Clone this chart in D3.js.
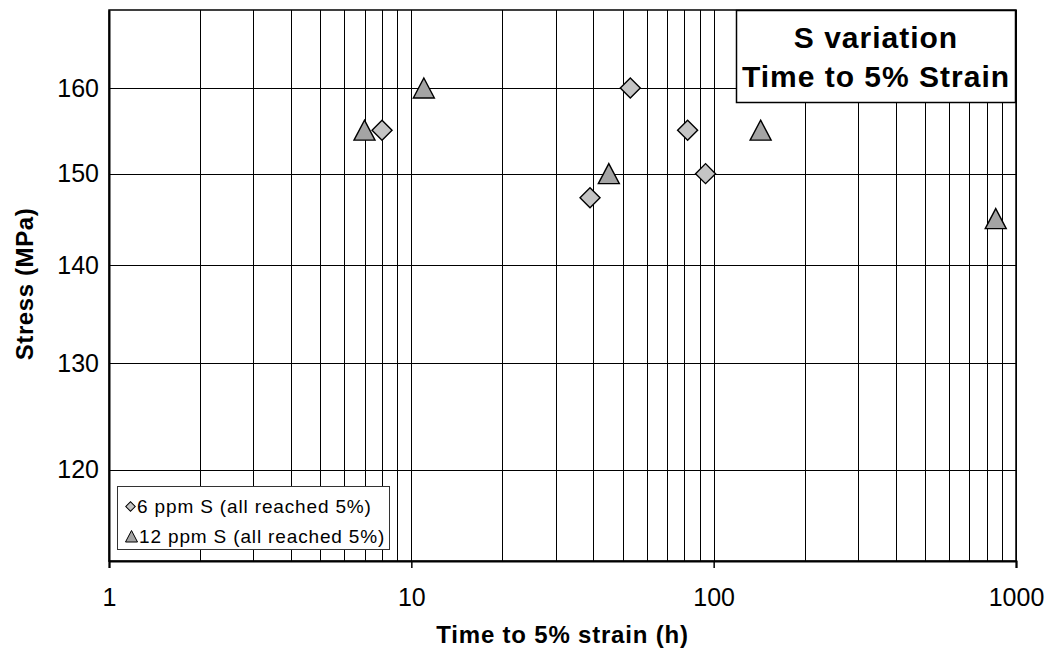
<!DOCTYPE html>
<html>
<head>
<meta charset="utf-8">
<script src="https://cdn.jsdelivr.net/npm/d3@7"></script>
<style>
  body { margin: 0; background: #fff; }
  text { font-family: "Liberation Sans", Arial, sans-serif; }
</style>
</head>
<body>
<div id="chart"></div>
<script>
// DATA
const sixHours = [8.0, 39, 53, 82, 94];
const sixStress = [155, 147.3, 160, 155, 150];
const twelveHours = [7.0, 11.0, 45, 143, 857];
const twelveStress = [155, 160, 150, 155, 145];
const yGridValues = [120, 130, 140, 150, 160];
const xLabelValues = [1, 10, 100, 1000];
const legendLabels = ["6 ppm S (all reached 5%)", "12 ppm S (all reached 5%)"];
const titleLines = ["S variation", "Time to 5% Strain"];

const W = 1051, H = 655;
const plot = { left: 109, right: 1016, top: 10, bottom: 561 };

const svg = d3.select("#chart")
    .append("svg")
    .attr("width", W)
    .attr("height", H);

svg.append("rect").attr("width", W).attr("height", H).attr("fill", "#fff");

// SCALES
const xs = d3.scaleLog().domain([1, 1000]).range([plot.left, plot.right]);
const ys = d3.scaleLog().domain([112, 169.7]).range([plot.bottom, plot.top]);

// GRID
svg.append("g")
    .selectAll("line")
    .data(xs.ticks())
    .enter()
    .append("line")
    .attr("x1", d => Math.round(xs(d)) + 0.5)
    .attr("x2", d => Math.round(xs(d)) + 0.5)
    .attr("y1", plot.top)
    .attr("y2", plot.bottom)
    .attr("stroke", "#000")
    .attr("stroke-width", 1);

svg.append("g")
    .selectAll("line")
    .data(yGridValues)
    .enter()
    .append("line")
    .attr("x1", plot.left)
    .attr("x2", plot.right)
    .attr("y1", d => Math.round(ys(d)) + 0.5)
    .attr("y2", d => Math.round(ys(d)) + 0.5)
    .attr("stroke", "#000")
    .attr("stroke-width", 1);

// plot border
svg.append("rect")
    .attr("x", plot.left)
    .attr("y", plot.top)
    .attr("width", plot.right - plot.left)
    .attr("height", plot.bottom - plot.top)
    .attr("fill", "none")
    .attr("stroke", "#000")
    .attr("stroke-width", 1.5);

// AXES
const xAxis = svg.append("g")
    .attr("transform", `translate(0,${plot.bottom})`)
    .call(d3.axisBottom(xs).tickValues(xLabelValues).tickFormat(d3.format("d"))
        .tickSize(7).tickPadding(20));
xAxis.select(".domain").attr("stroke-width", 2);
xAxis.selectAll(".tick line").attr("stroke-width", 1.5);
xAxis.selectAll("text")
    .style("font-size", "25px")
    .style("font-family", "Liberation Sans, Arial, sans-serif")
    .attr("fill", "#000");

const yAxis = svg.append("g")
    .attr("transform", `translate(${plot.left},0)`)
    .call(d3.axisLeft(ys).tickValues(yGridValues).tickFormat(d3.format("d"))
        .tickSize(0).tickPadding(10));
yAxis.select(".domain").attr("stroke-width", 2);
yAxis.selectAll("text")
    .style("font-size", "25px")
    .style("font-family", "Liberation Sans, Arial, sans-serif")
    .attr("fill", "#000");

// axis titles
svg.append("text")
    .attr("x", (plot.left + plot.right) / 2)
    .attr("y", 643)
    .attr("text-anchor", "middle")
    .style("font-size", "24px")
    .style("font-weight", "bold")
    .style("letter-spacing", "0.8px")
    .text("Time to 5% strain (h)");

svg.append("text")
    .attr("transform", "translate(33,284) rotate(-90)")
    .attr("text-anchor", "middle")
    .style("font-size", "24px")
    .style("font-weight", "bold")
    .style("letter-spacing", "0.6px")
    .text("Stress (MPa)");

// MARKERS
const diamond = d3.symbol().type(d3.symbolSquare).size(200);
const triPath = "M0,-10L10.5,10L-10.5,10Z";

svg.append("g")
    .selectAll("path")
    .data(sixHours)
    .enter()
    .append("path")
    .attr("d", diamond)
    .attr("transform", (d, i) => `translate(${xs(d)},${ys(sixStress[i])}) rotate(45)`)
    .attr("fill", "#c4c4c4")
    .attr("stroke", "#000")
    .attr("stroke-width", 1.4);

svg.append("g")
    .selectAll("path")
    .data(twelveHours)
    .enter()
    .append("path")
    .attr("d", triPath)
    .attr("transform", (d, i) => `translate(${xs(d)},${ys(twelveStress[i])})`)
    .attr("fill", "#a4a4a4")
    .attr("stroke", "#000")
    .attr("stroke-width", 1.4);

// LEGEND
const legend = svg.append("g");
legend.append("rect")
    .attr("x", 117.5)
    .attr("y", 486.5)
    .attr("width", 272)
    .attr("height", 63)
    .attr("fill", "#fff")
    .attr("stroke", "#333")
    .attr("stroke-width", 1);

legend.append("path")
    .attr("d", d3.symbol().type(d3.symbolSquare).size(45))
    .attr("transform", "translate(130.5,506.5) rotate(45)")
    .attr("fill", "#c4c4c4")
    .attr("stroke", "#000")
    .attr("stroke-width", 1);

legend.append("path")
    .attr("d", "M0,-6L6,5.5L-6,5.5Z")
    .attr("transform", "translate(131.5,536.5)")
    .attr("fill", "#a4a4a4")
    .attr("stroke", "#000")
    .attr("stroke-width", 1);

legend.selectAll("text.lg")
    .data(legendLabels)
    .enter()
    .append("text")
    .attr("class", "lg")
    .attr("x", (d, i) => i === 0 ? 137 : 139)
    .attr("y", (d, i) => 513 + i * 30)
    .style("font-size", "19px")
    .style("letter-spacing", "0.85px")
    .text(d => d);

// TITLE BOX
svg.append("rect")
    .attr("x", 736.5)
    .attr("y", 10.5)
    .attr("width", 279)
    .attr("height", 92)
    .attr("fill", "#fff")
    .attr("stroke", "#000")
    .attr("stroke-width", 1.5);

svg.selectAll("text.title")
    .data(titleLines)
    .enter()
    .append("text")
    .attr("class", "title")
    .attr("x", 876)
    .attr("y", (d, i) => 47.5 + i * 39.5)
    .attr("text-anchor", "middle")
    .style("font-size", "30px")
    .style("font-weight", "bold")
    .style("letter-spacing", "1px")
    .text(d => d);
</script>
</body>
</html>
